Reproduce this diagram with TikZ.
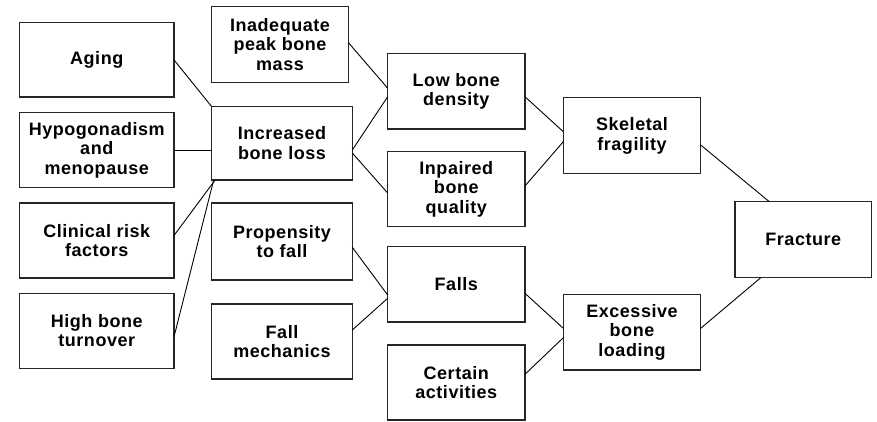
\documentclass[tikz,border=0pt]{standalone}
\usepackage{fontspec}
\setmainfont{Liberation Sans}[LetterSpace=3]
\usetikzlibrary{calc}
\tikzset{
  box/.style={draw=black!85, line width=1.2pt, fill=white, inner sep=0pt, outer sep=0pt,
    align=center, font=\fontsize{18}{19.5}\selectfont\bfseries},
  link/.style={draw=black, line width=0.9pt},
}
\begin{document}
\begin{tikzpicture}[x=1pt,y=-1pt]
\useasboundingbox (0,0) rectangle (877,421);
% column 1
\node[box, minimum width=154.5pt, minimum height=74.3pt] (aging) at (96.75,59.9) {Aging};
\node[box, minimum width=154.5pt, minimum height=74.6pt] (hypo) at (96.75,150) {Hypogonadism\\and\\menopause};
\node[box, minimum width=154.5pt, minimum height=75pt] (clin) at (96.75,240.5) {Clinical risk\\factors};
\node[box, minimum width=154.5pt, minimum height=75pt] (high) at (96.75,330.8) {High bone\\turnover};
% column 2
\node[box, minimum width=136.6pt, minimum height=75.6pt] (inad) at (280,44.5) {Inadequate\\peak bone\\mass};
\node[box, minimum width=140.6pt, minimum height=73.3pt] (ibl) at (282,143.3) {Increased\\bone loss};
\node[box, minimum width=140.6pt, minimum height=77pt] (prop) at (282,241.5) {Propensity\\to fall};
\node[box, minimum width=140.6pt, minimum height=75pt] (fallm) at (282,341.5) {Fall\\mechanics};
% column 3
\node[box, minimum width=137.3pt, minimum height=75.7pt] (lbd) at (456.3,91.2) {Low bone\\density};
\node[box, minimum width=137.3pt, minimum height=75pt] (inp) at (456.3,189.2) {Inpaired\\bone\\quality};
\node[box, minimum width=137.3pt, minimum height=75.3pt] (falls) at (456.3,284.3) {Falls};
\node[box, minimum width=137.3pt, minimum height=75pt] (cert) at (456.3,382.5) {Certain\\activities};
% column 4
\node[box, minimum width=137.4pt, minimum height=76pt] (skel) at (632,135.7) {Skeletal\\fragility};
\node[box, minimum width=137.4pt, minimum height=75.7pt] (exc) at (632,332.2) {Excessive\\bone\\loading};
% column 5
\node[box, minimum width=136.7pt, minimum height=76pt] (frac) at (803.3,239.7) {Fracture};
% connectors
\draw[link] (aging.east) -- (ibl.north west);
\draw[link] (hypo.east) -- (hypo.east -| ibl.west);
\draw[link] ($(ibl.south west)+(3.5,0)$) -- ($(clin.east)+(0,-5)$);
\draw[link] ($(ibl.south west)+(2,0)$) -- ($(high.east)+(0,6)$);
\draw[link] ($(inad.east)+(0,-2)$) -- ($(lbd.west)+(0,-3)$);
\draw[link] ($(ibl.east)+(0,6.7)$) -- ($(lbd.west)+(0,5.5)$);
\draw[link] ($(ibl.east)+(0,9.7)$) -- ($(inp.west)+(0,3.8)$);
\draw[link] ($(lbd.east)+(0,5.5)$) -- ($(skel.west)+(0,-4)$);
\draw[link] ($(inp.east)+(0,-3.2)$) -- ($(skel.west)+(0,6)$);
\draw[link] ($(skel.east)+(0,9.3)$) -- ($(frac.north)+(-34,0)$);
\draw[link] ($(exc.east)+(0,-3.9)$) -- ($(frac.south)+(-42.6,0)$);
\draw[link] ($(prop.east)+(0,5.8)$) -- ($(falls.west)+(0,10.7)$);
\draw[link] ($(fallm.east)+(0,-11.5)$) -- ($(falls.west)+(0,14)$);
\draw[link] ($(falls.east)+(0,9)$) -- ($(exc.west)+(0,-3.9)$);
\draw[link] ($(cert.east)+(0,-8.2)$) -- ($(exc.west)+(0,5.5)$);
\end{tikzpicture}
\end{document}
